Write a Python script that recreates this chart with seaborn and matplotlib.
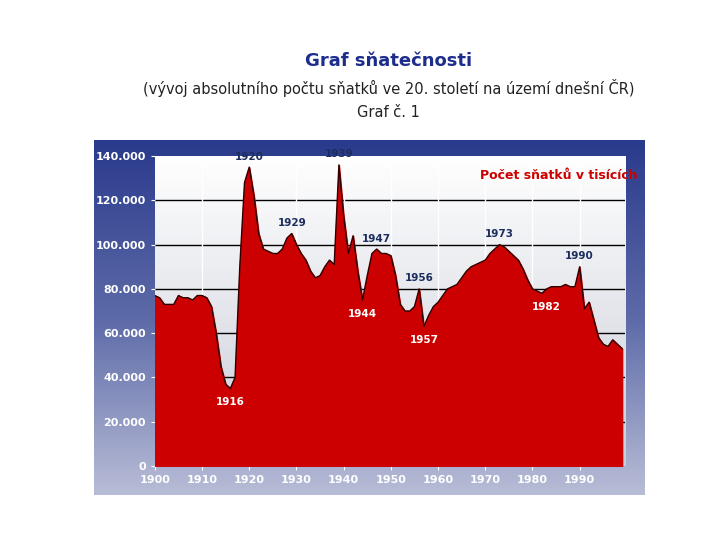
import numpy as np
import pandas as pd
import matplotlib
matplotlib.use("Agg")
import matplotlib.pyplot as plt
import seaborn as sns

years = list(range(1900, 2000))
marriages = [77, 76, 73, 73, 73, 77, 76, 76, 75, 77,
             77, 76, 72, 60, 45, 37, 35, 40, 90, 128,
             135, 122, 105, 98, 97, 96, 96, 98, 103, 105,
             100, 96, 93, 88, 85, 86, 90, 93, 91, 136,
             113, 96, 104, 88, 75, 86, 96, 98, 96, 96,
             95, 86, 73, 70, 70, 72, 80, 63, 68, 72,
             74, 77, 80, 81, 82, 85, 88, 90, 91, 92,
             93, 96, 98, 100, 99, 97, 95, 93, 89, 84,
             80, 79, 78, 80, 81, 81, 81, 82, 81, 81,
             90, 71, 74, 66, 58, 55, 54, 57, 55, 53]
peak_years = [1920, 1929, 1939, 1947, 1956, 1973, 1990]
trough_years = [1916, 1944, 1957, 1982]
yticks = [0, 20000, 40000, 60000, 80000, 100000, 120000, 140000]
ytick_labels = ["0", "20.000", "40.000", "60.000", "80.000", "100.000", "120.000", "140.000"]
xticks = [1900, 1910, 1920, 1930, 1940, 1950, 1960, 1970, 1980, 1990]

df = pd.DataFrame({"rok": years, "pocet": [m * 1000 for m in marriages]})

fig = plt.figure(figsize=(7.2, 5.4), dpi=100)
fig.patch.set_facecolor("white")

# blue frame with gradient
bg = fig.add_axes([0.131, 0.083, 0.764, 0.657], zorder=0)
grad = np.linspace(0, 1, 256).reshape(-1, 1)
from matplotlib.colors import LinearSegmentedColormap
cm = LinearSegmentedColormap.from_list("b", ["#2a3a8c", "#5d6aa8", "#b8bdd6"])
bg.imshow(grad, aspect="auto", cmap=cm, extent=[0, 1, 0, 1])
bg.set_axis_off()

ax = fig.add_axes([0.215, 0.137, 0.653, 0.574], zorder=1)
ax.imshow(np.linspace(0, 1, 256).reshape(-1, 1), aspect="auto",
          cmap=LinearSegmentedColormap.from_list("w", ["#ffffff", "#c9cdd8"]),
          extent=[1900, 1999.6, 0, 140000], zorder=0)
for y in yticks[1:-1]:
    ax.axhline(y, color="black", lw=1, zorder=1)
for x in xticks[1:]:
    ax.axvline(x, color="white", lw=1, zorder=1)
ax.fill_between(df["rok"], df["pocet"], color="#cc0000", zorder=2)
sns.lineplot(data=df, x="rok", y="pocet", ax=ax, color="#300000", lw=1, zorder=3)
ax.set_xlim(1900, 1999.6)
ax.set_ylim(0, 140000)
ax.set_yticks(yticks)
ax.set_yticklabels(ytick_labels)
ax.set_xticks(xticks)
ax.tick_params(colors="white", labelsize=8, length=3)
for t in ax.get_yticklabels() + ax.get_xticklabels():
    t.set_fontweight("bold")
ax.set_xlabel("")
ax.set_ylabel("")
for s in ax.spines.values():
    s.set_visible(False)

d = dict(zip(years, marriages))
for y in peak_years:
    ax.text(y, d[y] * 1000 + 2500, str(y), ha="center", va="bottom", fontsize=7.5,
            color="#1c2d5e", fontweight="bold", zorder=4)
for y in trough_years:
    ax.text(y + (1 if y == 1982 else 0), d[y] * 1000 - 4000, str(y), ha="center", va="top",
            fontsize=7.5, color="white", fontweight="bold", zorder=4)
ax.text(1985.5, 131000, "Počet sňatků v tisících", ha="center", va="center",
        color="#cc0000", fontsize=9, fontweight="bold", zorder=4)

fig.text(0.54, 0.878, "Graf sňatečnosti", ha="center", fontsize=13, color="#1c2d8c", fontweight="bold")
fig.text(0.54, 0.826, "(vývoj absolutního počtu sňatků ve 20. století na území dnešní ČR)",
         ha="center", fontsize=10.5, color="#222222")
fig.text(0.54, 0.783, "Graf č. 1", ha="center", fontsize=10.5, color="#222222")

fig.savefig("out.png", dpi=100)
